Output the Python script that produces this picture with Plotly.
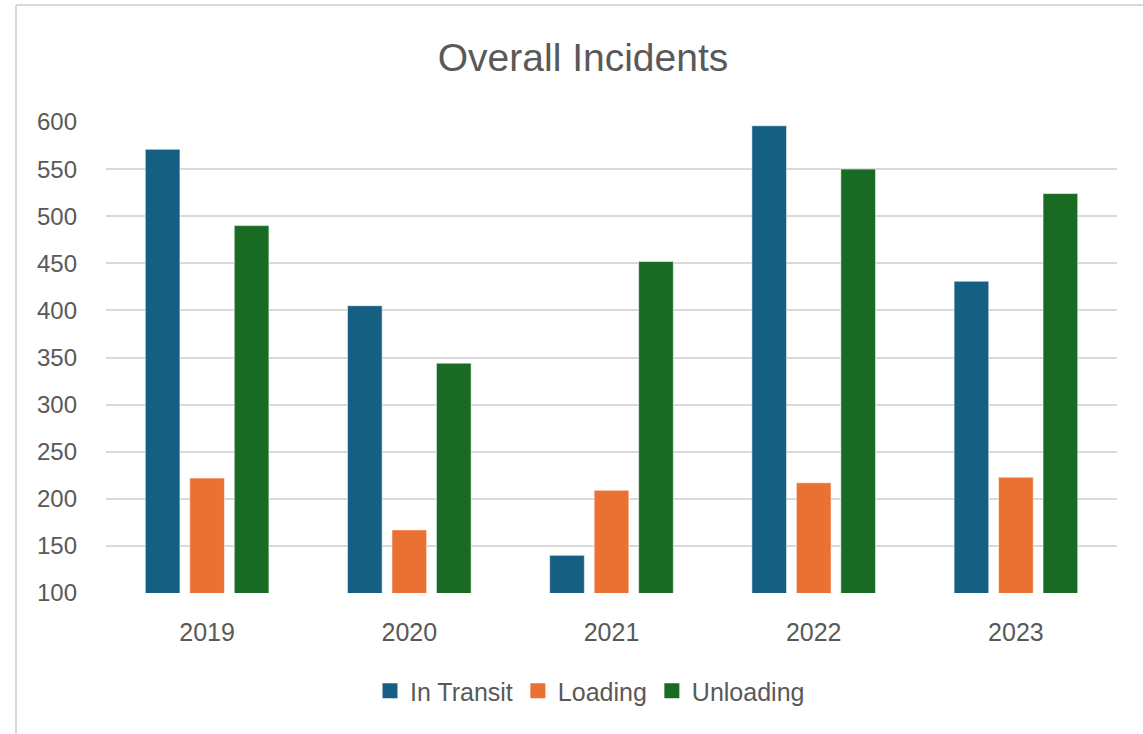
import plotly.graph_objects as go

years = ["2019", "2020", "2021", "2022", "2023"]
in_transit = [571, 405, 140, 596, 431]
loading = [222, 167, 209, 217, 223]
unloading = [490, 344, 452, 550, 524]

series = [
    ("In Transit", in_transit, "#156082"),
    ("Loading", loading, "#E97132"),
    ("Unloading", unloading, "#196B24"),
]

W, H = 1143, 734
ML, MR, MT, MB = 106, 26, 122, 141
pw = W - ML - MR
ph = H - MT - MB

fig = go.Figure()
for name, vals, color in series:
    fig.add_trace(go.Bar(
        name=name, x=years, y=vals, base=0, legendgroup=name, showlegend=False,
        marker=dict(color=color, line=dict(color="rgba(255,255,255,0.55)", width=1)),
    ))
# larger square legend keys
for name, vals, color in series:
    fig.add_trace(go.Scatter(
        name=name, x=[None], y=[None], mode="markers", legendgroup=name,
        marker=dict(symbol="square", size=15, color=color),
    ))

# chart-area frame (left and top edges)
fx = (16 - ML) / pw
fy = 1 + (MT - 5) / ph
fig.add_shape(type="line", xref="paper", yref="paper", x0=fx, x1=fx, y0=-MB / ph - 0.1, y1=fy,
              line=dict(color="#D9D9D9", width=2))
fig.add_shape(type="line", xref="paper", yref="paper", x0=fx, x1=1 + MR / pw + 0.1, y0=fy, y1=fy,
              line=dict(color="#D9D9D9", width=2))

fig.update_layout(
    width=W, height=H,
    margin=dict(l=ML, r=MR, t=MT, b=MB),
    paper_bgcolor="white", plot_bgcolor="white",
    barmode="group", bargap=0.34, bargroupgap=0.22,
    title=dict(text="Overall Incidents", x=(583 - ML) / pw, xref="paper", xanchor="center",
               y=1 - 57 / H, yanchor="middle",
               font=dict(family="Liberation Sans, Arial", size=39, color="#595959")),
    font=dict(family="Liberation Sans, Arial", color="#595959", size=25),
    legend=dict(orientation="h", x=(590 - ML) / pw, xanchor="center", y=-(691 - 593) / ph, yanchor="middle",
                font=dict(family="Liberation Sans, Arial", size=25, color="#595959"),
                itemwidth=30, traceorder="normal"),
    showlegend=True,
)
fig.update_yaxes(range=[100, 600], dtick=50, showgrid=True, gridcolor="#D9D9D9", gridwidth=2,
                 zeroline=False, showline=False, ticks="", ticklabelstandoff=28,
                 tickfont=dict(size=24, color="#595959"))
fig.update_xaxes(showgrid=False, showline=False, ticks="", ticklabelstandoff=22,
                 tickfont=dict(size=25, color="#595959"))

fig.write_html("out.html")
